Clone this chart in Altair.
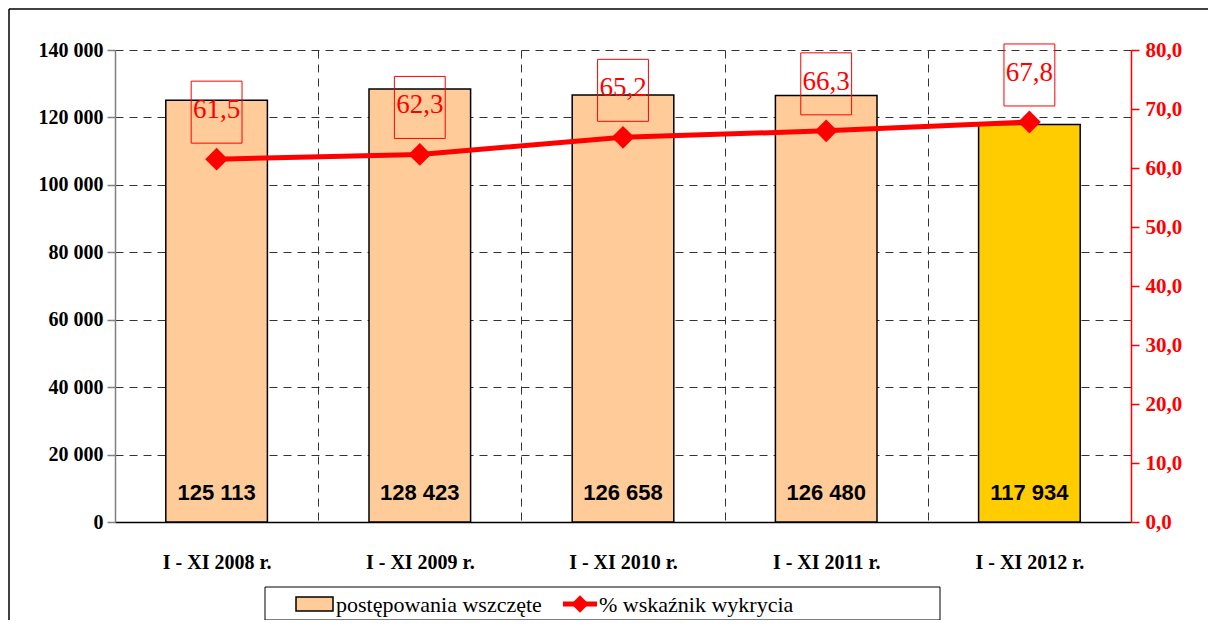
import altair as alt
import pandas as pd

categories = ["I - XI 2008 r.", "I - XI 2009 r.", "I - XI 2010 r.", "I - XI 2011 r.", "I - XI 2012 r."]
cases = [125113, 128423, 126658, 126480, 117934]
detection = [61.5, 62.3, 65.2, 66.3, 67.8]
bar_colors = ["#FFCC99", "#FFCC99", "#FFCC99", "#FFCC99", "#FFCC00"]
legend_labels = ["postępowania wszczęte", "% wskaźnik wykrycia"]

df = pd.DataFrame({
    "cat": categories,
    "cases": cases,
    "det": detection,
    "color": bar_colors,
    "cases_lbl": [f"{v:,}".replace(",", " ") for v in cases],
    "det_lbl": [f"{v:.1f}".replace(".", ",") for v in detection],
})

W, H = 1016, 472
PL, PT, PR, PB = 107, 42, 77, 98
SERIF = "Liberation Serif"

x_scale = alt.Scale(domain=categories, paddingInner=0, paddingOuter=0)
x_enc = alt.X("cat:N", sort=categories, title=None, scale=x_scale,
              axis=alt.Axis(tickBand="extent", ticks=False, grid=True, labelAngle=0,
                            gridDash=[8, 6], gridColor="#333333", gridWidth=1,
                            domainColor="black", domainWidth=1.5,
                            labelFont=SERIF, labelFontSize=20, labelFontWeight="bold",
                            labelColor="black", labelPadding=30))
x_plain = alt.X("cat:N", sort=categories, scale=x_scale, title=None)

y_left = alt.Scale(domain=[0, 140000])
y_right = alt.Scale(domain=[0, 80])

bars = alt.Chart(df).mark_bar(stroke="black", strokeWidth=1.5,
                              width=alt.RelativeBandSize(0.5)).encode(
    x=x_enc,
    y=alt.Y("cases:Q", scale=y_left, title=None,
            axis=alt.Axis(values=list(range(0, 140001, 20000)),
                          labelExpr="replace(format(datum.value, ','), ',', ' ')",
                          grid=True, gridDash=[8, 6], gridColor="#333333",
                          domainColor="#808080", domainWidth=1.5,
                          tickColor="#808080", tickSize=8, tickWidth=1.5,
                          labelFont=SERIF, labelFontSize=20, labelFontWeight="bold",
                          labelColor="black", labelPadding=4)),
    fill=alt.Fill("color:N", scale=None),
)

bar_text = alt.Chart(df).mark_text(
    font="Liberation Sans", fontSize=22, fontWeight="bold", color="black",
    baseline="middle", dy=-29,
).encode(
    x=x_plain,
    y=alt.Y(datum=0, scale=y_left, axis=None),
    text="cases_lbl:N",
)

line = alt.Chart(df).mark_line(color="#FF0000", strokeWidth=5).encode(
    x=x_plain,
    y=alt.Y("det:Q", scale=y_right, title=None,
            axis=alt.Axis(orient="right", values=list(range(0, 81, 10)),
                          labelExpr="replace(format(datum.value, '.1f'), '.', ',')",
                          grid=False, domainColor="#FF0000", domainWidth=1.5,
                          tickColor="#FF0000", tickSize=8, tickWidth=1.5,
                          labelFont=SERIF, labelFontSize=21, labelFontWeight="bold",
                          labelColor="#FF0000", labelPadding=6)),
)

points = alt.Chart(df).mark_point(shape="diamond", filled=True, color="#FF0000",
                                  size=520, opacity=1).encode(
    x=x_plain,
    y=alt.Y("det:Q", scale=y_right, axis=None),
)

boxes = alt.Chart(df).mark_point(
    shape="M-0.82,-1H0.82V1H-0.82Z", size=3844, filled=False,
    stroke="#FF0000", strokeWidth=1, opacity=1, yOffset=-47,
).encode(
    x=x_plain,
    y=alt.Y("det:Q", scale=y_right, axis=None),
)

det_text = alt.Chart(df).mark_text(
    font=SERIF, fontSize=27, color="#FF0000", baseline="middle", dy=-49,
).encode(
    x=x_plain,
    y=alt.Y("det:Q", scale=y_right, axis=None),
    text="det_lbl:N",
)

# outer frame (top and left edges) and legend (decoration)
one = pd.DataFrame({"k": [0]})
frame_top = alt.Chart(one).mark_rule(color="black", strokeWidth=1.5).encode(
    x=alt.value(-PL + 1), x2=alt.value(W + PR), y=alt.value(-PT + 1)
)
frame_left = alt.Chart(one).mark_rule(color="black", strokeWidth=1.5).encode(
    x=alt.value(-PL + 1), y=alt.value(-PT + 1), y2=alt.value(H + PB)
)
leg_box = alt.Chart(one).mark_rect(fill="white", stroke="black", strokeWidth=1).encode(
    x=alt.value(150), x2=alt.value(825), y=alt.value(537), y2=alt.value(570)
)
leg_swatch = alt.Chart(one).mark_rect(fill="#FFCC99", stroke="black", strokeWidth=1.5).encode(
    x=alt.value(181), x2=alt.value(218), y=alt.value(547), y2=alt.value(561)
)
leg_line = alt.Chart(one).mark_rule(color="#FF0000", strokeWidth=5).encode(
    x=alt.value(448), x2=alt.value(482), y=alt.value(554)
)
leg_diamond = alt.Chart(one).mark_point(shape="diamond", filled=True, color="#FF0000",
                                        size=300, opacity=1).encode(
    x=alt.value(465), y=alt.value(554)
)
leg_t1 = alt.Chart(pd.DataFrame({"t": [legend_labels[0]]})).mark_text(
    font=SERIF, fontSize=22, align="left", baseline="middle", color="black"
).encode(x=alt.value(221), y=alt.value(555), text="t:N")
leg_t2 = alt.Chart(pd.DataFrame({"t": [legend_labels[1]]})).mark_text(
    font=SERIF, fontSize=22, align="left", baseline="middle", color="black"
).encode(x=alt.value(484), y=alt.value(555), text="t:N")

chart = alt.layer(
    bars, bar_text, line, points, boxes, det_text,
    frame_top, frame_left, leg_box, leg_swatch, leg_line, leg_diamond, leg_t1, leg_t2
).resolve_scale(y="independent").properties(
    width=W, height=H,
    autosize=alt.AutoSizeParams(type="none"),
    padding={"left": PL, "top": PT, "right": PR, "bottom": PB},
).configure_view(stroke=None).configure_axis(
    labelFont=SERIF, labelFontWeight="bold", labelFontSize=20
)

chart.save("out.html", embed_options={"renderer": "svg", "actions": False})
